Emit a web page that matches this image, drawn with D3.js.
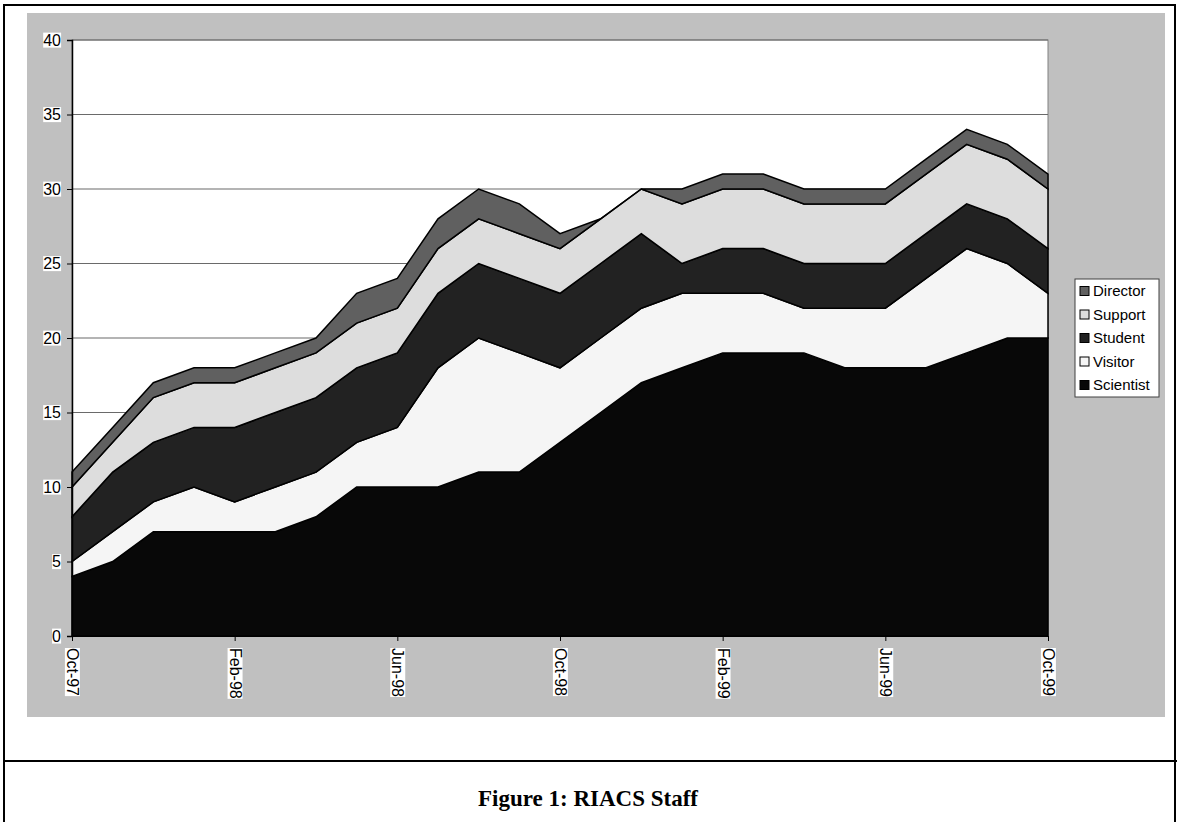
<!DOCTYPE html>
<html>
<head>
<meta charset="utf-8">
<script src="https://cdn.jsdelivr.net/npm/d3@7"></script>
<style>
  body { margin: 0; background: #fff; }
  svg { display: block; }
</style>
</head>
<body>
<div id="chart"></div>
<script>
const months = ["Oct-97", "Nov-97", "Dec-97", "Jan-98", "Feb-98", "Mar-98", "Apr-98", "May-98",
    "Jun-98", "Jul-98", "Aug-98", "Sep-98", "Oct-98", "Nov-98", "Dec-98", "Jan-99", "Feb-99",
    "Mar-99", "Apr-99", "May-99", "Jun-99", "Jul-99", "Aug-99", "Sep-99", "Oct-99"];
const tickMonths = ["Oct-97", "Feb-98", "Jun-98", "Oct-98", "Feb-99", "Jun-99", "Oct-99"];
const yTicks = [0, 5, 10, 15, 20, 25, 30, 35, 40];

// stack order is bottom to top
const seriesNames = ["Scientist", "Visitor", "Student", "Support", "Director"];
const scientist = [4, 5, 7, 7, 7, 7, 8, 10, 10, 10, 11, 11, 13, 15, 17, 18, 19, 19, 19, 18, 18, 18, 19, 20, 20];
const visitor   = [1, 2, 2, 3, 2, 3, 3, 3, 4, 8, 9, 8, 5, 5, 5, 5, 4, 4, 3, 4, 4, 6, 7, 5, 3];
const student   = [3, 4, 4, 4, 5, 5, 5, 5, 5, 5, 5, 5, 5, 5, 5, 2, 3, 3, 3, 3, 3, 3, 3, 3, 3];
const support   = [2, 2, 3, 3, 3, 3, 3, 3, 3, 3, 3, 3, 3, 3, 3, 4, 4, 4, 4, 4, 4, 4, 4, 4, 4];
const director  = [1, 1, 1, 1, 1, 1, 1, 2, 2, 2, 2, 2, 1, 0, 0, 1, 1, 1, 1, 1, 1, 1, 1, 1, 1];

const COLOURS = {
    Scientist: "#080808",
    Visitor: "#f5f5f5",
    Student: "#222222",
    Support: "#dddddd",
    Director: "#606060"
};
const SANS = "'Liberation Sans', Arial, sans-serif";

const WIDTH = 1177, HEIGHT = 822;
const svg = d3.select("#chart").append("svg")
    .attr("width", WIDTH)
    .attr("height", HEIGHT);

// ------------------------ page frame ------------------------
svg.append("rect")
    .attr("x", 4).attr("y", 5)
    .attr("width", WIDTH - 6).attr("height", HEIGHT + 10)
    .attr("fill", "#fff")
    .attr("stroke", "#000")
    .attr("stroke-width", 2);

svg.append("line")
    .attr("x1", 4).attr("x2", WIDTH)
    .attr("y1", 761).attr("y2", 761)
    .attr("stroke", "#000")
    .attr("stroke-width", 2);

svg.append("rect")
    .attr("x", 27).attr("y", 13)
    .attr("width", 1138).attr("height", 704)
    .attr("fill", "#c0c0c0");

svg.append("text")
    .attr("x", 588).attr("y", 806)
    .attr("text-anchor", "middle")
    .style("font-family", "'Liberation Serif', 'Times New Roman', serif")
    .style("font-weight", "bold")
    .style("font-size", "23px")
    .text("Figure 1: RIACS Staff");

// ------------------------ scales ------------------------
const plot = {left: 72, right: 1048, top: 40, bottom: 636};

const x = d3.scalePoint()
    .domain(months)
    .range([plot.left, plot.right]);

const y = d3.scaleLinear()
    .domain([0, 40])
    .range([plot.bottom, plot.top]);

svg.append("rect")
    .attr("x", plot.left).attr("y", plot.top)
    .attr("width", plot.right - plot.left)
    .attr("height", plot.bottom - plot.top)
    .attr("fill", "#fff")
    .attr("stroke", "#808080")
    .attr("stroke-width", 1);

// gridlines
svg.append("g")
    .selectAll("line")
    .data(yTicks.filter(d => d > 0))
    .enter()
    .append("line")
    .attr("x1", plot.left).attr("x2", plot.right)
    .attr("y1", d => y(d)).attr("y2", d => y(d))
    .attr("stroke", "#6a6a6a")
    .attr("stroke-width", 1.2);

// ------------------------ stacked areas ------------------------
const table = months.map((m, i) => ({
    month: m,
    Scientist: scientist[i],
    Visitor: visitor[i],
    Student: student[i],
    Support: support[i],
    Director: director[i]
}));

const stacked = d3.stack().keys(seriesNames)(table);

const area = d3.area()
    .x(d => x(d.data.month))
    .y0(d => y(d[0]))
    .y1(d => y(d[1]));

svg.append("g")
    .selectAll("path")
    .data(stacked)
    .enter()
    .append("path")
    .attr("d", area)
    .attr("fill", d => COLOURS[d.key])
    .attr("stroke", "#000")
    .attr("stroke-width", 1.5)
    .attr("stroke-linejoin", "miter");

// ------------------------ axes ------------------------
function labelBackgrounds(g) {
    g.selectAll(".tick").each(function () {
        const tick = d3.select(this);
        const txt = tick.select("text");
        const b = txt.node().getBBox();
        tick.insert("rect", "text")
            .attr("x", b.x).attr("y", b.y + 1)
            .attr("width", b.width).attr("height", b.height - 2)
            .attr("transform", txt.attr("transform"))
            .attr("fill", "#fff");
    });
}

const yAxis = svg.append("g")
    .attr("transform", `translate(${plot.left},0)`)
    .call(d3.axisLeft(y).tickValues(yTicks).tickSize(5).tickPadding(6));
yAxis.attr("font-size", null).attr("font-family", null);
yAxis.selectAll("text")
    .style("font-family", SANS)
    .style("font-size", "16px")
    .attr("fill", "#000");
yAxis.select(".domain").attr("stroke", "#000").attr("stroke-width", 1.5);
yAxis.selectAll(".tick line").attr("stroke", "#000");
labelBackgrounds(yAxis);

const xAxis = svg.append("g")
    .attr("transform", `translate(0,${plot.bottom})`)
    .call(d3.axisBottom(x).tickValues(tickMonths).tickSize(5).tickSizeOuter(0));
xAxis.attr("font-size", null).attr("font-family", null);
xAxis.select(".domain").attr("stroke", "#000").attr("stroke-width", 1);
xAxis.selectAll(".tick line").attr("stroke", "#000");
xAxis.selectAll("text")
    .style("font-family", SANS)
    .style("font-size", "16px")
    .attr("fill", "#000")
    .attr("text-anchor", "start")
    .attr("dy", "0.35em")
    .attr("y", 0)
    .attr("transform", "translate(0,12) rotate(90)");
labelBackgrounds(xAxis);

// ------------------------ legend ------------------------
const legend = svg.append("g")
    .attr("transform", "translate(1075,279)");

legend.append("rect")
    .attr("width", 84).attr("height", 118)
    .attr("fill", "#fff")
    .attr("stroke", "#404040")
    .attr("stroke-width", 1);

const legendItems = legend.selectAll(".item")
    .data(seriesNames.slice().reverse())
    .enter()
    .append("g")
    .attr("class", "item")
    .attr("transform", (d, i) => `translate(5,${12 + i * 23.5})`);

legendItems.append("rect")
    .attr("x", 0).attr("y", -4.5)
    .attr("width", 9).attr("height", 9)
    .attr("fill", d => COLOURS[d])
    .attr("stroke", "#000")
    .attr("stroke-width", 1);

legendItems.append("text")
    .attr("x", 13).attr("y", 0)
    .attr("dy", "0.36em")
    .style("font-family", SANS)
    .style("font-size", "15px")
    .text(d => d);
</script>
</body>
</html>
